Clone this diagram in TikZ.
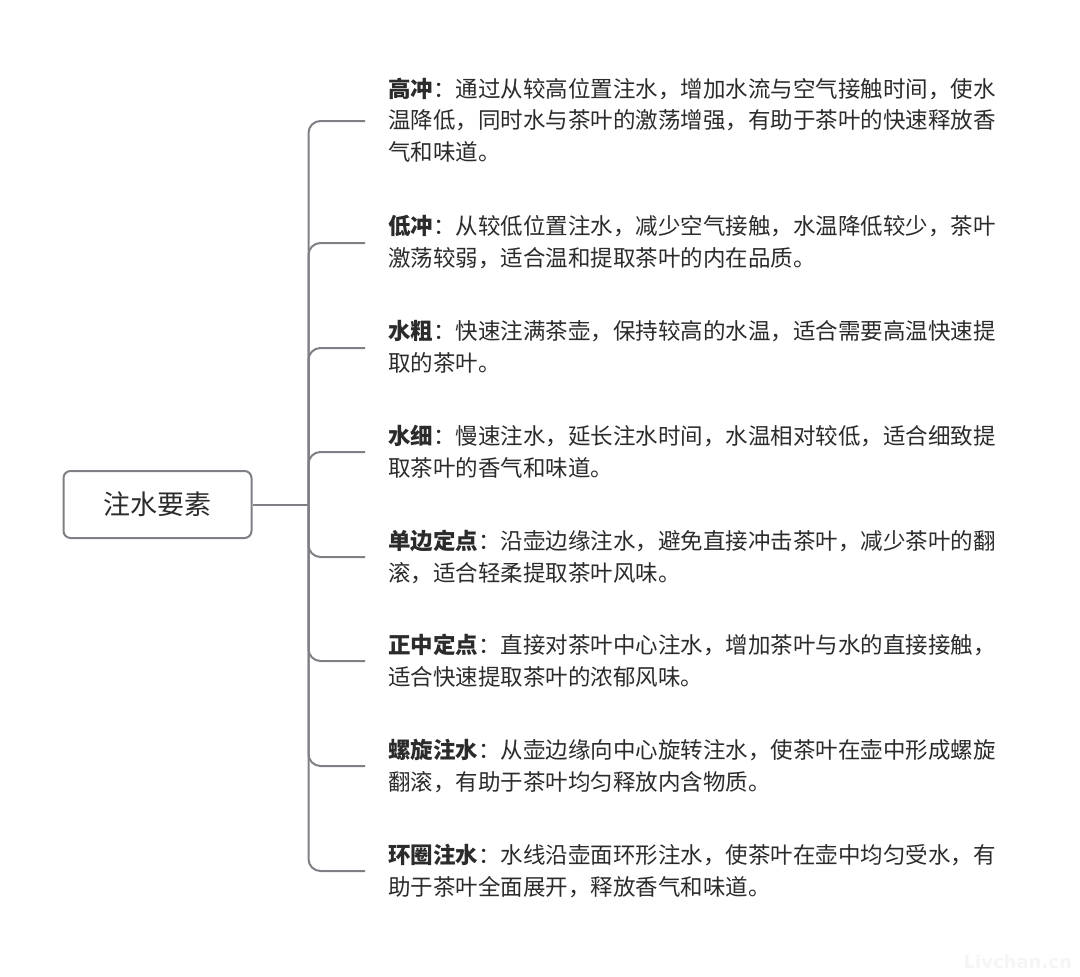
\documentclass[tikz,border=0pt]{standalone}
\usepackage{fontspec}
\newfontfamily\cjk{Noto Sans CJK SC}
\setmainfont{Noto Sans CJK SC}
\definecolor{linegray}{HTML}{7E8086}
\definecolor{txt}{HTML}{2B2B2B}
\tikzset{
  conn/.style={draw=linegray, line width=2pt, rounded corners=12pt},
  rootbox/.style={draw=linegray, line width=2pt, rounded corners=7pt, minimum width=188pt, minimum height=67pt, text=txt, font=\cjk\fontsize{27}{30}\selectfont, inner sep=0pt},
  leaf/.style={anchor=west, align=left, inner sep=0pt, text=txt, font=\cjk\fontsize{22.5}{31.8}\selectfont},
}
\begin{document}
\begin{tikzpicture}[x=1pt,y=-1pt]
\useasboundingbox (0,0) rectangle (1080,977);
\node[rootbox] (root) at (157.5,504.5) {注水要素};
\coordinate (hub) at (308.5,504.5);
\foreach \i/\y in {1/121,2/243,3/348,4/452,5/557,6/661,7/766,8/871}{
  \coordinate (e\i) at (365,\y);
}
\node[leaf] (t1) at (388,120) {\textbf{高冲}：通过从较高位置注水，增加水流与空气接触时间，使水\\温降低，同时水与茶叶的激荡增强，有助于茶叶的快速释放香\\气和味道。};
\node[leaf] (t2) at (388,242) {\textbf{低冲}：从较低位置注水，减少空气接触，水温降低较少，茶叶\\激荡较弱，适合温和提取茶叶的内在品质。};
\node[leaf] (t3) at (388,347) {\textbf{水粗}：快速注满茶壶，保持较高的水温，适合需要高温快速提\\取的茶叶。};
\node[leaf] (t4) at (388,452) {\textbf{水细}：慢速注水，延长注水时间，水温相对较低，适合细致提\\取茶叶的香气和味道。};
\node[leaf] (t5) at (388,557) {\textbf{单边定点}：沿壶边缘注水，避免直接冲击茶叶，减少茶叶的翻\\滚，适合轻柔提取茶叶风味。};
\node[leaf] (t6) at (388,661) {\textbf{正中定点}：直接对茶叶中心注水，增加茶叶与水的直接接触，\\适合快速提取茶叶的浓郁风味。};
\node[leaf] (t7) at (388,766) {\textbf{螺旋注水}：从壶边缘向中心旋转注水，使茶叶在壶中形成螺旋\\翻滚，有助于茶叶均匀释放内含物质。};
\node[leaf] (t8) at (388,871) {\textbf{环圈注水}：水线沿壶面环形注水，使茶叶在壶中均匀受水，有\\助于茶叶全面展开，释放香气和味道。};
\draw[conn] (root.east) -- (hub);
\foreach \i in {1,...,8}{
  \draw[conn] (hub) |- (e\i);
}
\node[text=black!4, font=\fontspec{DejaVu Sans}\bfseries\fontsize{18}{20}\selectfont, anchor=east, inner sep=0pt] (wm) at (1072,962) {Livchan.cn};
\end{tikzpicture}
\end{document}
